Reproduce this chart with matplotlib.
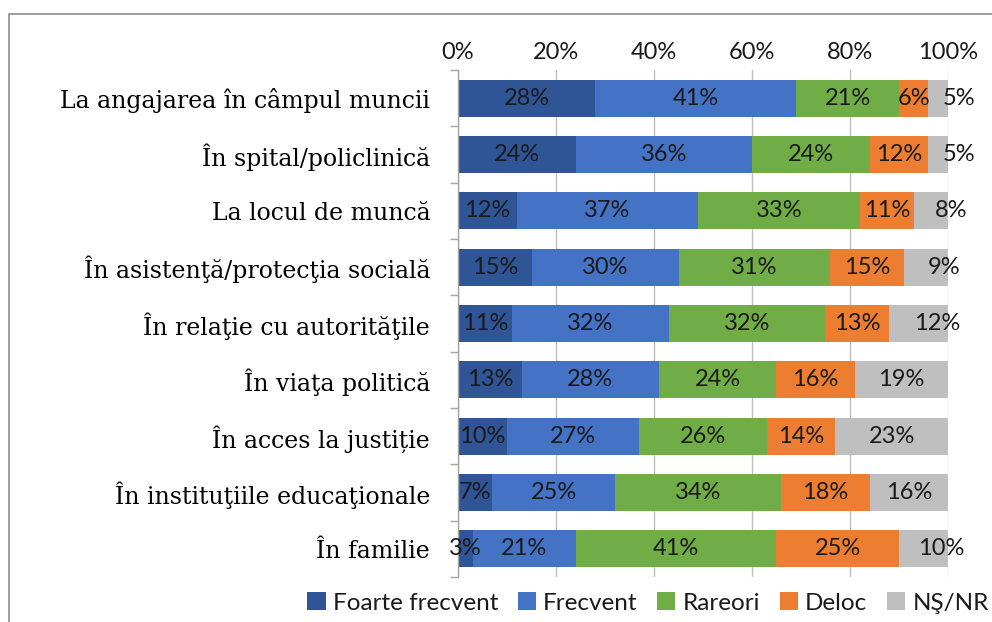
import matplotlib
matplotlib.use("Agg")
import matplotlib.pyplot as plt
from matplotlib.patches import Rectangle
import numpy as np

categories = ["La angajarea în câmpul muncii", "În spital/policlinică", "La locul de muncă",
              "În asistenţă/protecţia socială", "În relaţie cu autorităţile", "În viaţa politică",
              "În acces la justiție", "În instituţiile educaţionale", "În familie"]
series_names = ["Foarte frecvent", "Frecvent", "Rareori", "Deloc", "NŞ/NR"]
foarte_frecvent = [28, 24, 12, 15, 11, 13, 10, 7, 3]
frecvent = [41, 36, 37, 30, 32, 28, 27, 25, 21]
rareori = [21, 24, 33, 31, 32, 24, 26, 34, 41]
deloc = [6, 12, 11, 15, 13, 16, 14, 18, 25]
ns_nr = [5, 5, 8, 9, 12, 19, 23, 16, 10]
x_ticks = [0, 20, 40, 60, 80, 100]
x_tick_labels = ["0%", "20%", "40%", "60%", "80%", "100%"]

colors = ["#2F5597", "#4472C4", "#70AD47", "#ED7D31", "#BFBFBF"]
series = [foarte_frecvent, frecvent, rareori, deloc, ns_nr]

W, H = 992, 622
fig = plt.figure(figsize=(W / 100, H / 100), dpi=100)
ax = fig.add_axes([458 / W, 1 - 577 / H, (948 - 458) / W, (577 - 70) / H])

n = len(categories)
y = np.arange(n)
left = np.zeros(n)
label_font = dict(family="Lato", size=17, color="#1a1a1a")
for si, (vals, col, name) in enumerate(zip(series, colors, series_names)):
    vals = np.array(vals, dtype=float)
    ax.barh(y, vals, left=left, height=0.66, color=col, label=name, zorder=2)
    for i, v in enumerate(vals):
        cx = left[i] + v / 2
        dx = 0
        if si == 4 and v < 15:
            dx = 13
        ax.annotate(f"{int(v)}%", (cx, y[i]), xytext=(dx, 0), textcoords="offset points",
                    ha="center", va="center", annotation_clip=False, zorder=3, **label_font)
    left += vals

ax.set_xlim(0, 100)
ax.set_ylim(n - 0.5, -0.5)
ax.xaxis.tick_top()
ax.set_xticks(x_ticks)
ax.set_xticklabels(x_tick_labels, fontfamily="Lato", fontsize=17, color="#1a1a1a")
ax.tick_params(axis="x", length=0, pad=5)
ax.grid(axis="x", color="#BFBFBF", linewidth=1, zorder=0)

ax.set_yticks(y)
ax.set_yticklabels(categories, fontfamily="DejaVu Serif", fontsize=17, color="#000000")
ax.set_yticks(np.arange(n + 1) - 0.5, minor=True)
ax.tick_params(axis="y", which="major", length=0, pad=20)
ax.tick_params(axis="y", which="minor", length=6, color="#A6A6A6", width=1)

for s in ["top", "right", "bottom"]:
    ax.spines[s].set_visible(False)
ax.spines["left"].set_color("#A6A6A6")
ax.spines["left"].set_linewidth(1)

leg = fig.legend(loc="center", bbox_to_anchor=(648 / W, 1 - 603 / H), ncol=5, frameon=False,
                 prop=dict(family="Lato", size=17.5), handlelength=0.75, handleheight=0.75,
                 handletextpad=0.3, columnspacing=0.8, borderaxespad=0)
for t in leg.get_texts():
    t.set_color("#1a1a1a")

fig.patches.append(Rectangle((8.5 / W, -0.05), 1.1, 1 - 13.5 / H + 0.05, transform=fig.transFigure,
                             fill=False, edgecolor="#8C8C8C", linewidth=1.2))

fig.savefig("out.png", dpi=100, facecolor="white")
